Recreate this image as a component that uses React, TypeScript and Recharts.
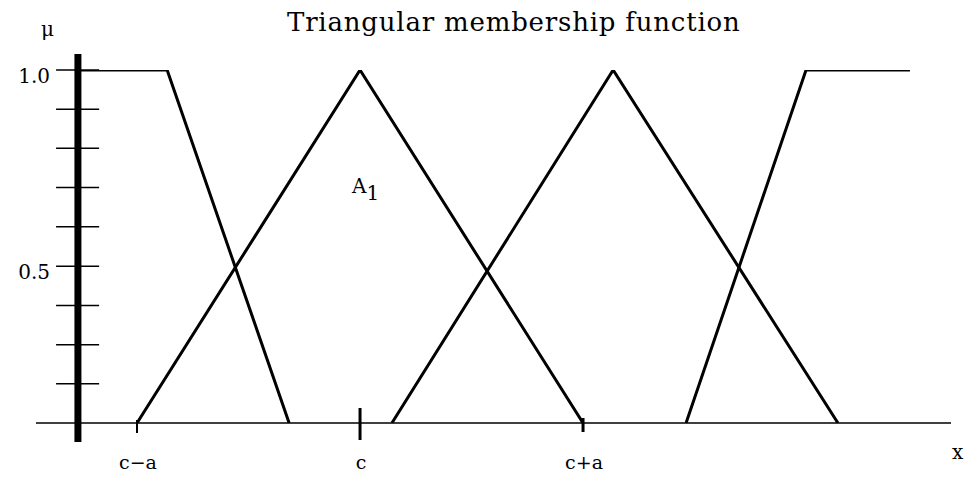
import React from 'react';
import { LineChart, Line, XAxis, YAxis, ReferenceLine, ReferenceDot } from 'recharts';

// x is measured in units of a, with c at 0
const leftX = [-1.265, -0.865, -0.318];
const leftMu = [1, 1, 0];
const a1X = [-1, 0, 1];
const a1Mu = [0, 1, 0];
const a2X = [0.143, 1.135, 2.143];
const a2Mu = [0, 1, 0];
const rightX = [1.462, 2.0, 2.466];
const rightMu = [0, 1, 1];

const xTicks = [-1, 0, 1];
const xTickLabels = ['c\u2212a', 'c', 'c+a'];
const yTicks = [0.111, 0.222, 0.333, 0.444, 0.556, 0.667, 0.778, 0.889, 1.0];
const yTickLabels = ['', '', '', '0.5', '', '', '', '', '1.0'];

const toPoints = (xs: number[], ys: number[]) => xs.map((x, i) => ({ x, mu: ys[i] }));
const series = [
  toPoints(leftX, leftMu),
  toPoints(a1X, a1Mu),
  toPoints(a2X, a2Mu),
  toPoints(rightX, rightMu),
];

const X_MIN = -1.453;
const X_MAX = 2.65;
const AXIS_X = -1.265;
const TICK_FROM = -1.363;
const TICK_TO = -1.17;
const serif = "'DejaVu Serif', serif";

// how far each x tick mark reaches above / below the baseline
const tickUp = [3, 15, 5];
const tickDown = [10, 17, 9];
const tickWidth = [2, 3, 3];

const XTick = (props: any) => {
  const { x, y, payload } = props;
  const i = xTicks.indexOf(payload.value);
  if (i < 0) return null;
  return (
    <g>
      <line x1={x} x2={x} y1={y - tickUp[i]} y2={y + tickDown[i]} stroke="#000" strokeWidth={tickWidth[i]} />
      <text x={x + 1} y={y + 46} textAnchor="middle" fontFamily={serif} fontSize={19} fill="#000">
        {xTickLabels[i]}
      </text>
    </g>
  );
};

const A1Label = (props: any) => {
  const vb = props.viewBox || {};
  return (
    <text x={vb.x} y={vb.y} fontFamily={serif} fontSize={20} fill="#000">
      A<tspan dy={7}>1</tspan>
    </text>
  );
};

export default function App() {
  return (
    <div style={{ position: 'absolute', left: 0, top: 0, width: 970, height: 477, background: '#fff' }}>
      <div
        style={{
          position: 'absolute',
          left: 287,
          top: 9,
          fontFamily: serif,
          fontSize: 26,
          lineHeight: '26px',
          letterSpacing: '0.8px',
          whiteSpace: 'nowrap',
          color: '#000',
        }}
      >
        Triangular membership function
      </div>
      <div
        style={{
          position: 'absolute',
          left: 41,
          top: 19,
          fontFamily: serif,
          fontSize: 20,
          lineHeight: '20px',
          color: '#000',
        }}
      >
        μ
      </div>
      <LineChart width={970} height={477} margin={{ top: 70, right: 19, bottom: 0, left: 36 }}>
        <XAxis
          type="number"
          dataKey="x"
          domain={[X_MIN, X_MAX]}
          allowDataOverflow
          ticks={xTicks}
          interval={0}
          tick={<XTick />}
          tickLine={false}
          tickSize={0}
          tickMargin={0}
          height={54}
          axisLine={{ stroke: '#000', strokeWidth: 1.5 }}
          label={{ value: 'x', position: 'right', offset: 1, dy: 2, fontFamily: serif, fontSize: 20, fill: '#000' }}
        />
        <YAxis type="number" domain={[0, 1]} allowDataOverflow hide />
        <ReferenceLine
          segment={[{ x: AXIS_X, y: -0.054 }, { x: AXIS_X, y: 1.045 }]}
          stroke="#000"
          strokeWidth={7}
          ifOverflow="visible"
        />
        {yTicks.map((v, i) => (
          <ReferenceLine
            key={v}
            segment={[{ x: TICK_FROM, y: v }, { x: TICK_TO, y: v }]}
            stroke="#000"
            strokeWidth={1.5}
            ifOverflow="visible"
            label={
              yTickLabels[i]
                ? { value: yTickLabels[i], position: 'left', offset: 6, dy: 6, fontFamily: serif, fontSize: 20, fill: '#000' }
                : undefined
            }
          />
        ))}
        {series.map((s, i) => (
          <Line
            key={i}
            data={s}
            dataKey="mu"
            type="linear"
            stroke="#000"
            strokeWidth={3}
            dot={false}
            activeDot={false}
            isAnimationActive={false}
          />
        ))}
        <ReferenceDot x={-0.036} y={0.652} r={0} fill="none" stroke="none" label={<A1Label />} />
      </LineChart>
    </div>
  );
}
